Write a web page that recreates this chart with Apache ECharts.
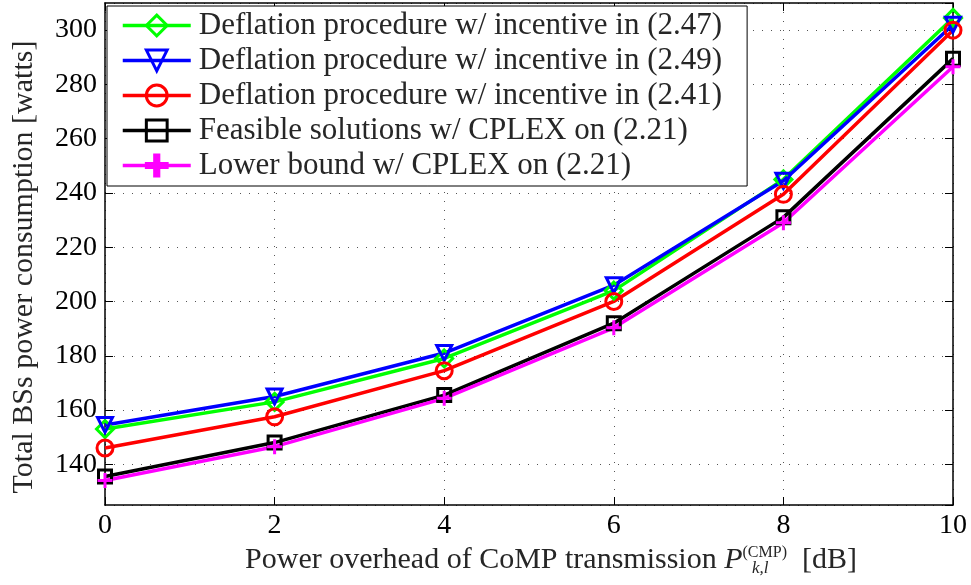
<!DOCTYPE html>
<html>
<head>
<meta charset="utf-8">
<script src="https://cdn.jsdelivr.net/npm/echarts@6/dist/echarts.min.js"></script>
<style>
  html, body { margin: 0; padding: 0; background: #fff; }
  #app { width: 971px; height: 585px; }
</style>
</head>
<body>
<div id="app"></div>
<script>
// x positions: CoMP power overhead [dB]
const overheadDb = [0, 2, 4, 6, 8, 10];

// total BS power consumption [watts]
const deflation247 = [153, 163, 179, 204, 245, 304.5];
const deflation249 = [154.5, 165, 181, 206, 244.5, 302];
const deflation241 = [146, 157.5, 174.5, 200, 239.5, 300];
const cplexFeasible = [135.5, 148, 165.5, 192, 231, 289.5];
const cplexLowerBound = [134, 146.5, 164.3, 190.3, 229, 286.5];

const seriesNames = [
  "Deflation procedure w/ incentive in (2.47)",
  "Deflation procedure w/ incentive in (2.49)",
  "Deflation procedure w/ incentive in (2.41)",
  "Feasible solutions w/ CPLEX on (2.21)",
  "Lower bound w/ CPLEX on (2.21)"
];

const FONT = "Liberation Serif";
// filled plus sign
const plusPath = "path://M4,0 H6 V4 H10 V6 H6 V10 H4 V6 H0 V4 H4 Z";

function pairs(ys) {
  return overheadDb.map((x, i) => [x, ys[i]]);
}

function makeSeries(name, ys, color, symbol, size, rotate) {
  const filled = symbol === plusPath;
  return {
    type: "line",
    name,
    data: pairs(ys),
    xAxisIndex: 0,
    yAxisIndex: 0,
    symbol,
    symbolSize: size,
    symbolRotate: rotate || 0,
    showAllSymbol: true,
    lineStyle: { color, width: 3.5 },
    itemStyle: filled
      ? { color, borderColor: color, borderWidth: 0 }
      : { color: "transparent", borderColor: color, borderWidth: 3 },
    emphasis: { disabled: true }
  };
}

const series = [
  makeSeries(seriesNames[0], deflation247, "#00ff00", "diamond", 17),
  makeSeries(seriesNames[1], deflation249, "#0000ff", "triangle", 15, 180),
  makeSeries(seriesNames[2], deflation241, "#ff0000", "circle", 16),
  makeSeries(seriesNames[3], cplexFeasible, "#000000", "rect", 13),
  makeSeries(seriesNames[4], cplexLowerBound, "#ff00ff", plusPath, 15)
];

const gridLine = { show: true, lineStyle: { color: "#555", width: 1, type: [1, 8] } };
const tickIn = { show: true, inside: true, length: 8, lineStyle: { color: "#000", width: 1 } };
const boxLine = { show: true, onZero: false, lineStyle: { color: "#000", width: 1.5 } };

const chart = echarts.init(document.getElementById("app"));
chart.setOption({
  animation: false,
  backgroundColor: "#fff",
  grid: { left: 105, right: 18, top: 3, bottom: 80 },
  legend: {
    orient: "vertical",
    left: 107,
    top: 6,
    backgroundColor: "#fff",
    borderColor: "#000",
    borderWidth: 1,
    padding: [4, 25, 5, 14],
    itemGap: 4,
    itemWidth: 68,
    itemHeight: 26,
    lineStyle: { width: 3.5 },
    itemStyle: { borderWidth: 3 },
    textStyle: { fontFamily: FONT, fontSize: 31, lineHeight: 31, color: "#262626", padding: [0, 0, 0, 3] },
    data: seriesNames
  },
  xAxis: [
    {
      type: "value",
      min: 0,
      max: 10,
      interval: 2,
      position: "bottom",
      axisLine: boxLine,
      axisTick: tickIn,
      splitLine: gridLine,
      axisLabel: { fontFamily: FONT, fontSize: 28, color: "#000", margin: 7 },
      name: "{t|Power overhead of CoMP transmission }{i|P}{s|(CMP)}{t|  [dB]}",
      nameLocation: "middle",
      nameGap: 37,
      nameTextStyle: {
        padding: [0, 0, 0, 44],
        rich: {
          t: { fontFamily: FONT, fontSize: 30, color: "#262626", lineHeight: 30 },
          i: { fontFamily: FONT, fontSize: 30, fontStyle: "italic", color: "#262626", lineHeight: 30 },
          s: { fontFamily: FONT, fontSize: 16, color: "#262626", verticalAlign: "top", lineHeight: 16 }
        }
      }
    },
    {
      type: "value",
      min: 0,
      max: 10,
      interval: 2,
      position: "top",
      axisLine: boxLine,
      axisTick: tickIn,
      axisLabel: { show: false },
      splitLine: { show: false }
    }
  ],
  yAxis: [
    {
      type: "value",
      min: 125,
      max: 310,
      splitNumber: 9,
      minInterval: 20,
      maxInterval: 20,
      position: "left",
      axisLine: boxLine,
      axisTick: tickIn,
      splitLine: gridLine,
      axisLabel: {
        fontFamily: FONT, fontSize: 28, color: "#000", margin: 8,
        showMinLabel: false, showMaxLabel: false
      },
      name: "Total BSs power consumption [watts]",
      nameLocation: "middle",
      nameRotate: 90,
      nameGap: 66,
      nameTextStyle: { fontFamily: FONT, fontSize: 30, color: "#262626", padding: [0, 26, 0, 0] }
    },
    {
      type: "value",
      min: 125,
      max: 310,
      splitNumber: 9,
      minInterval: 20,
      maxInterval: 20,
      position: "right",
      axisLine: boxLine,
      axisTick: tickIn,
      axisLabel: { show: false },
      splitLine: { show: false }
    }
  ],
  graphic: [
    {
      type: "text",
      left: 752,
      top: 560,
      style: { text: "k,l", fontFamily: FONT, fontSize: 17, fontStyle: "italic", fill: "#262626" }
    }
  ],
  series
});
</script>
</body>
</html>
